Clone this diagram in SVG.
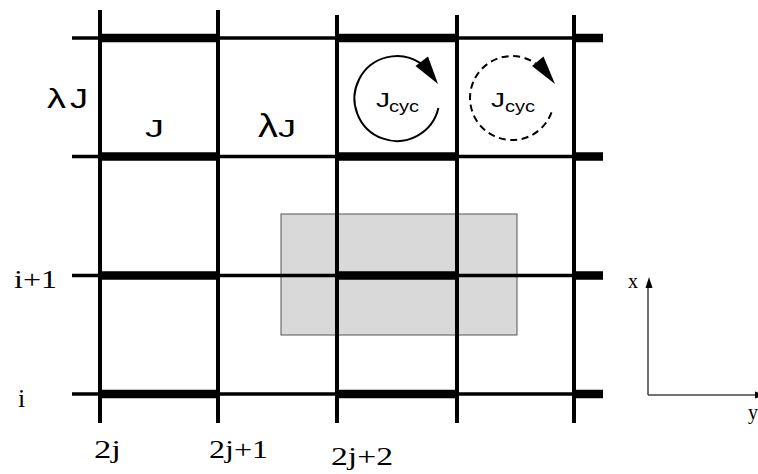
<svg xmlns="http://www.w3.org/2000/svg" width="758" height="474" viewBox="0 0 758 474">
<style>
.thin{stroke:#000;stroke-width:3.3;fill:none}
.thick{stroke:#000;stroke-width:8.5;fill:none}
.vert{stroke:#000;stroke-width:4;fill:none}
.sans{font-family:"Liberation Sans",Arial,sans-serif;fill:#000}
.serif{font-family:"Liberation Serif","Times New Roman",serif;fill:#000}
.loop{stroke:#000;stroke-width:2;fill:none}
.axis{stroke:#444;stroke-width:1.5;fill:none}
</style>
<rect width="758" height="474" fill="#fff"/>
<g id="shaded-region">
<rect x="281" y="214" width="236" height="121" fill="#d9d9d9" stroke="#555" stroke-width="1"/>
</g>
<g id="grid">
<g id="horizontal-thin">
<line class="thin" x1="72" y1="38" x2="603" y2="38"/>
<line class="thin" x1="72" y1="156.5" x2="603" y2="156.5"/>
<line class="thin" x1="72" y1="275.5" x2="603" y2="275.5"/>
<line class="thin" x1="72" y1="394" x2="603" y2="394"/>
</g>
<g id="horizontal-thick">
<path class="thick" d="M100,38H218M337,38H457M574,38H603"/>
<path class="thick" d="M100,156.5H218M337,156.5H457M574,156.5H603"/>
<path class="thick" d="M100,275.5H218M337,275.5H457M574,275.5H603"/>
<path class="thick" d="M100,394H218M337,394H457M574,394H603"/>
</g>
<g id="vertical">
<line class="vert" x1="100" y1="10" x2="100" y2="423"/>
<line class="vert" x1="218" y1="10" x2="218" y2="423"/>
<line class="vert" x1="337" y1="15" x2="337" y2="423"/>
<line class="vert" x1="457" y1="15" x2="457" y2="423"/>
<line class="vert" x1="574" y1="15" x2="574" y2="423"/>
</g>
</g>
<g id="bond-labels">
<text class="sans" x="47" y="108" font-size="28" textLength="19" lengthAdjust="spacingAndGlyphs">λ</text>
<text class="sans" x="70" y="108" font-size="28" textLength="18" lengthAdjust="spacingAndGlyphs">J</text>
<text class="sans" x="145" y="137" font-size="24" textLength="19" lengthAdjust="spacingAndGlyphs">J</text>
<text class="sans" x="258" y="137" font-size="33" textLength="20" lengthAdjust="spacingAndGlyphs">λ</text>
<text class="sans" x="278" y="137" font-size="24" textLength="18" lengthAdjust="spacingAndGlyphs">J</text>
</g>
<g id="cycle-solid">
<path class="loop" d="M438.4,108.1 A42.5,42.5 0 1 1 420.8,63.3"/>
<polygon points="438,84 415.5,66 428,56.5" fill="#000"/>
<text class="sans" x="376" y="107" font-size="21" textLength="14" lengthAdjust="spacingAndGlyphs">J</text>
<text class="sans" x="389" y="112" font-size="16" textLength="30" lengthAdjust="spacingAndGlyphs">cyc</text>
</g>
<g id="cycle-dashed">
<path class="loop" stroke-dasharray="7,4.5" d="M551.5,112.4 A42,42 0 1 1 535.5,63.2"/>
<polygon points="555,84 532,66 543.5,56.5" fill="#000"/>
<text class="sans" x="491" y="107" font-size="21" textLength="14" lengthAdjust="spacingAndGlyphs">J</text>
<text class="sans" x="505" y="112" font-size="16" textLength="30" lengthAdjust="spacingAndGlyphs">cyc</text>
</g>
<g id="row-labels">
<text class="serif" x="14" y="288" font-size="26" textLength="43" lengthAdjust="spacingAndGlyphs">i+1</text>
<text class="serif" x="18" y="407" font-size="26">i</text>
</g>
<g id="column-labels">
<text class="serif" x="94" y="458" font-size="26" textLength="27" lengthAdjust="spacingAndGlyphs">2j</text>
<text class="serif" x="209" y="458" font-size="26" textLength="59" lengthAdjust="spacingAndGlyphs">2j+1</text>
<text class="serif" x="331" y="465" font-size="26" textLength="62" lengthAdjust="spacingAndGlyphs">2j+2</text>
</g>
<g id="axes">
<path class="axis" d="M648,395V284M648,395H760"/>
<polygon points="649,277 645.5,288 652.5,288" fill="#000"/>
<polygon points="766,395 755,391.5 755,398.5" fill="#000"/>
<text class="serif" x="628" y="288" font-size="20">x</text>
<text class="serif" x="748" y="419" font-size="20">y</text>
</g>
</svg>
